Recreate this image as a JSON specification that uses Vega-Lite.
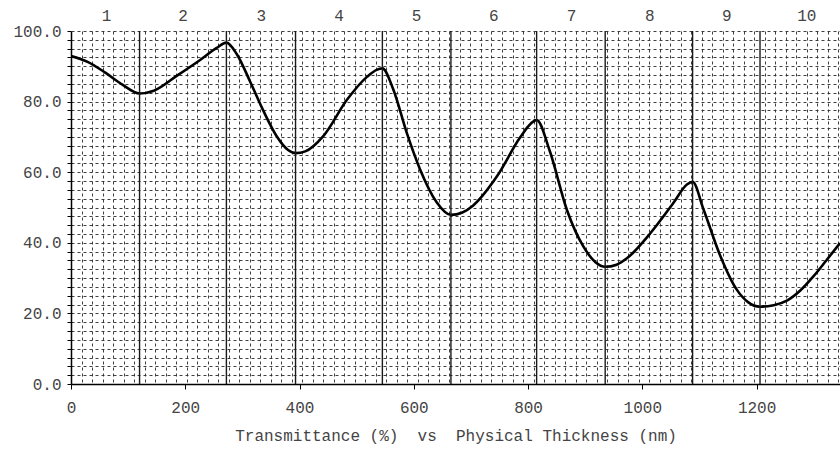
{
  "$schema": "https://vega.github.io/schema/vega-lite/v6.json",
  "width": 769,
  "height": 353,
  "autosize": {"type": "none"},
  "padding": {"left": 71, "top": 31, "right": 0, "bottom": 71},
  "background": "white",
  "config": {"view": {"stroke": null}},
  "datasets": {
    "curve": [
      {"nm": 0, "T": 92.9}, {"nm": 30, "T": 91.2}, {"nm": 60, "T": 88.2}, {"nm": 90, "T": 84.8},
      {"nm": 120, "T": 82.3}, {"nm": 145, "T": 83.1}, {"nm": 185, "T": 87.3}, {"nm": 226, "T": 91.8},
      {"nm": 255, "T": 95.2}, {"nm": 272, "T": 96.7}, {"nm": 290, "T": 93.5}, {"nm": 314, "T": 85.5},
      {"nm": 337, "T": 77.3}, {"nm": 360, "T": 70.2}, {"nm": 380, "T": 66.3}, {"nm": 393, "T": 65.4},
      {"nm": 410, "T": 65.9}, {"nm": 442, "T": 70.3}, {"nm": 483, "T": 80.5}, {"nm": 518, "T": 87},
      {"nm": 535, "T": 89}, {"nm": 545, "T": 89.4}, {"nm": 564, "T": 83.5}, {"nm": 588, "T": 71},
      {"nm": 611, "T": 60.8}, {"nm": 640, "T": 51.5}, {"nm": 665, "T": 47.9}, {"nm": 685, "T": 48.6},
      {"nm": 704, "T": 50.6}, {"nm": 745, "T": 58.7}, {"nm": 786, "T": 69.8}, {"nm": 805, "T": 73.8},
      {"nm": 815, "T": 74.8}, {"nm": 838, "T": 66}, {"nm": 868, "T": 49.3}, {"nm": 897, "T": 38.9},
      {"nm": 918, "T": 34.5}, {"nm": 935, "T": 33.2}, {"nm": 955, "T": 33.8}, {"nm": 973, "T": 35.6},
      {"nm": 1014, "T": 42.7}, {"nm": 1054, "T": 51.2}, {"nm": 1078, "T": 56.5}, {"nm": 1088, "T": 57.3},
      {"nm": 1107, "T": 49.5}, {"nm": 1136, "T": 36.5}, {"nm": 1165, "T": 26.8}, {"nm": 1185, "T": 23.2},
      {"nm": 1206, "T": 21.9}, {"nm": 1230, "T": 22.3}, {"nm": 1253, "T": 23.6}, {"nm": 1276, "T": 26.4},
      {"nm": 1299, "T": 30.4}, {"nm": 1322, "T": 35}, {"nm": 1346, "T": 39.9}
    ],
    "bounds": [
      {"b": 120}, {"b": 272}, {"b": 393}, {"b": 545}, {"b": 665},
      {"b": 815}, {"b": 935}, {"b": 1088}, {"b": 1206}
    ],
    "layers": [
      {"c": 62, "n": "1"}, {"c": 196, "n": "2"}, {"c": 333, "n": "3"}, {"c": 469, "n": "4"},
      {"c": 605, "n": "5"}, {"c": 740, "n": "6"}, {"c": 876, "n": "7"}, {"c": 1013, "n": "8"},
      {"c": 1148, "n": "9"}, {"c": 1288, "n": "10"}
    ]
  },
  "layer": [
    {
      "data": {"name": "curve"},
      "mark": {"type": "line", "color": "black", "strokeWidth": 2.6, "interpolate": "monotone", "clip": true},
      "encoding": {
        "x": {
          "field": "nm", "type": "quantitative",
          "scale": {"domain": [0, 1346], "nice": false, "zero": false},
          "axis": {
            "values": [0, 18.4, 36.8, 55.2, 73.6, 92, 110.4, 128.8, 147.2, 165.6, 184, 200, 202.4, 220.8, 239.2, 257.6, 276, 294.4, 312.8, 331.2, 349.6, 368, 386.4, 400, 404.8, 423.2, 441.6, 460, 478.4, 496.8, 515.2, 533.6, 552, 570.4, 588.8, 600, 607.2, 625.6, 644, 662.4, 680.8, 699.2, 717.6, 736, 754.4, 772.8, 791.2, 800, 809.6, 828, 846.4, 864.8, 883.2, 901.6, 920, 938.4, 956.8, 975.2, 993.6, 1000, 1012, 1030.4, 1048.8, 1067.2, 1085.6, 1104, 1122.4, 1140.8, 1159.2, 1177.6, 1196, 1200, 1214.4, 1232.8, 1251.2, 1269.6, 1288, 1306.4, 1324.8, 1343.2],
            "tickCount": 500,
            "labelExpr": "datum.value % 200 === 0 ? format(datum.value, 'd') : ''",
            "labelOverlap": false,
            "labelFlush": false,
            "labelFont": "Liberation Mono",
            "labelFontSize": 16,
            "labelColor": "#444",
            "labelPadding": 10,
            "tickSize": 5,
            "tickColor": "black",
            "tickOpacity": {"condition": {"test": "datum.value % 200 === 0", "value": 1}, "value": 0},
            "domainColor": "black",
            "domainWidth": 1.5,
            "grid": true,
            "gridColor": "#2a2a2a",
            "gridDash": [3, 3],
            "gridWidth": 1,
            "gridOpacity": {"condition": {"test": "datum.value % 200 === 0", "value": 0}, "value": 0.9},
            "title": "Transmittance (%)\u00a0 vs\u00a0 Physical Thickness (nm)",
            "titleFont": "Liberation Mono",
            "titleFontSize": 16,
            "titleFontWeight": "normal",
            "titleColor": "#444",
            "titlePadding": 12
          }
        },
        "y": {
          "field": "T", "type": "quantitative",
          "scale": {"domain": [0, 100], "nice": false},
          "axis": {
            "values": [0, 2.5, 5, 7.5, 10, 12.5, 15, 17.5, 20, 22.5, 25, 27.5, 30, 32.5, 35, 37.5, 40, 42.5, 45, 47.5, 50, 52.5, 55, 57.5, 60, 62.5, 65, 67.5, 70, 72.5, 75, 77.5, 80, 82.5, 85, 87.5, 90, 92.5, 95, 97.5, 100],
            "tickCount": 500,
            "labelExpr": "datum.value % 20 === 0 ? format(datum.value, '.1f') : ''",
            "labelOverlap": false,
            "labelFlush": false,
            "labelFont": "Liberation Mono",
            "labelFontSize": 16,
            "labelColor": "#444",
            "labelPadding": 6,
            "tickSize": 4,
            "tickColor": "black",
            "domainColor": "black",
            "domainWidth": 1.5,
            "grid": true,
            "gridColor": "#2a2a2a",
            "gridDash": [3, 3],
            "gridWidth": 1,
            "gridOpacity": 0.9,
            "title": null
          }
        }
      }
    },
    {
      "data": {"name": "bounds"},
      "mark": {"type": "rule", "color": "#1a1a1a", "strokeWidth": 1.4},
      "encoding": {"x": {"field": "b", "type": "quantitative"}}
    },
    {
      "data": {"name": "layers"},
      "mark": {"type": "text", "dy": -15, "font": "Liberation Mono", "fontSize": 16, "color": "#444", "baseline": "middle", "align": "center"},
      "encoding": {
        "x": {"field": "c", "type": "quantitative"},
        "y": {"datum": 100},
        "text": {"field": "n"}
      }
    }
  ]
}
